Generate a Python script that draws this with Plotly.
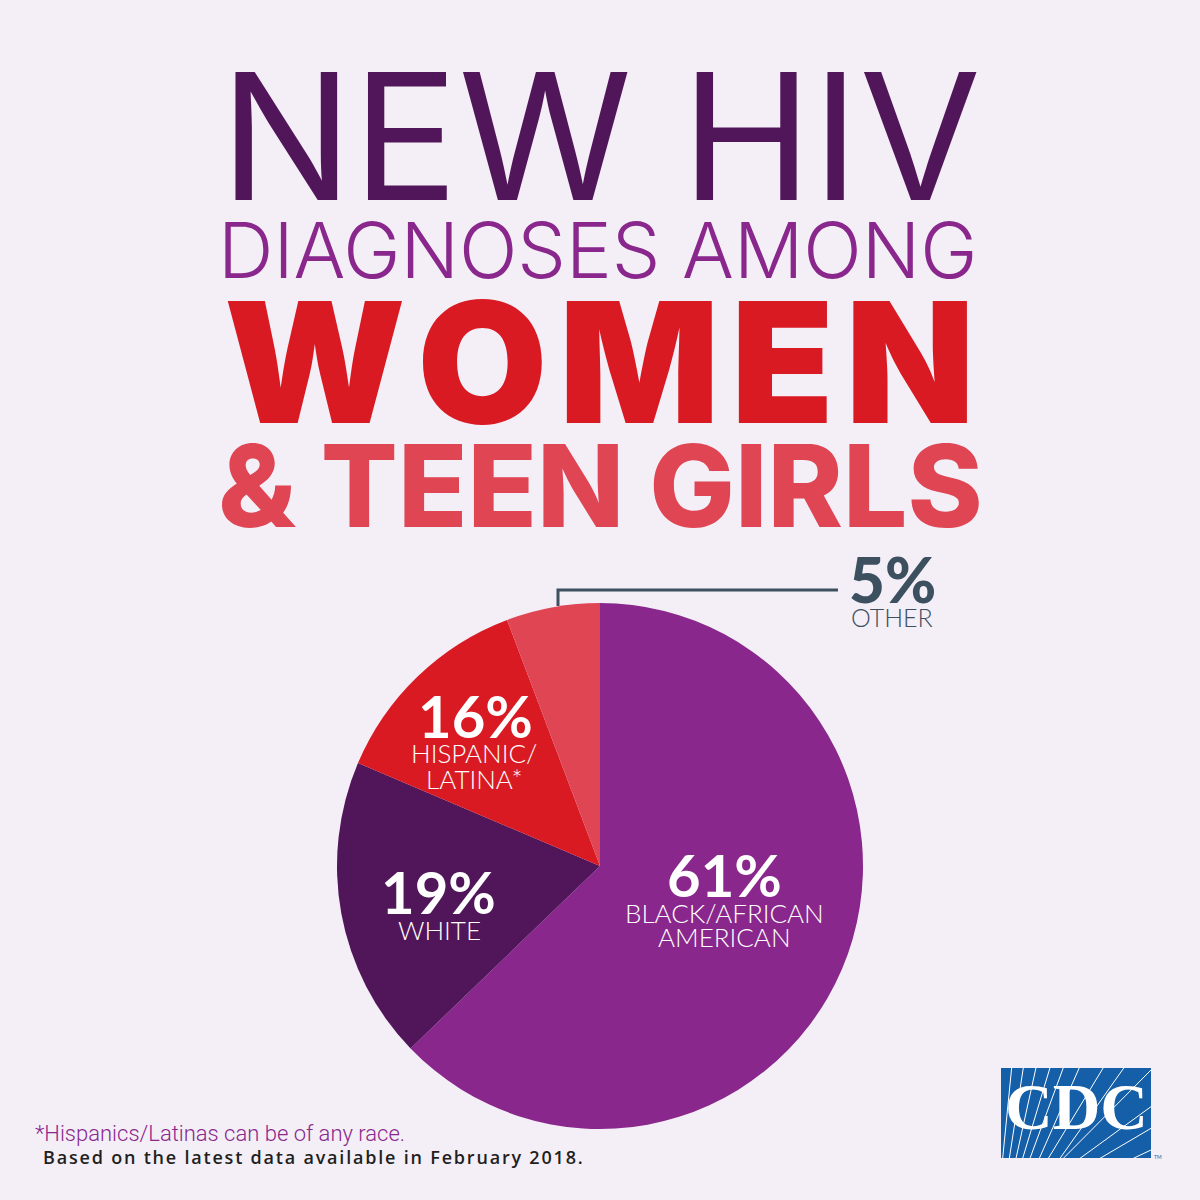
import plotly.graph_objects as go

W = H = 1200
BG = "#f4eef7"
slice_names = ["Black/African American", "White", "Hispanic/Latina", "Other"]
slice_shares = [62.8, 18.6, 12.85, 5.75]
slice_colors = ["#89278c", "#51155a", "#d91a23", "#df4553"]
HAIR = "\u200a"

def px(x): return x / W
def py(y): return 1 - y / H

fig = go.Figure(go.Pie(
    labels=slice_names, values=slice_shares, sort=False, direction="clockwise", rotation=0,
    marker=dict(colors=slice_colors, line=dict(width=0)), textinfo="none", showlegend=False,
    domain=dict(x=[px(337), px(863)], y=[py(1129), py(603)]),
))

# text, x, y (centre), size, colour, family, weight
texts = [
    ("NEW HIV", 600, 136, 176, "#51155a", "Inter", 400),
    ("DIAGNOSES AMONG", 597, 250, 77, "#89278c", "Inter", 300),
    ("W" + HAIR + "O" + HAIR + "M" + HAIR + "E" + HAIR + "N", 599, 362, 168, "#d91a23", "Inter", 900),
    ("&amp; TEEN GIRLS", 600, 485, 114, "#df4553", "Inter", 800),
    ("61%", 724, 874, 58, "white", "Lato", 700),
    ("BLACK/AFRICAN", 724, 913, 26, "white", "Lato", 300),
    ("AMERICAN", 724, 937, 26, "white", "Lato", 300),
    ("19%", 438, 891, 58, "white", "Lato", 700),
    ("WHITE", 439, 930, 26, "white", "Lato", 300),
    ("16%", 475, 715, 58, "white", "Lato", 700),
    ("HISPANIC/", 474, 753, 26, "white", "Lato", 300),
    ("LATINA*", 474, 779, 26, "white", "Lato", 300),
    ("5%", 892, 579, 62, "#3c5060", "Lato", 900),
    ("OTHER", 892, 617, 25, "#3c5060", "Lato", 300),
]
annotations = [dict(text=t, x=px(x), y=py(y), xref="paper", yref="paper", xanchor="center", yanchor="middle",
                    showarrow=False, font=dict(size=s, color=c, family=f, weight=w))
               for t, x, y, s, c, f, w in texts]
annotations += [
    dict(text="*Hispanics/Latinas can be of any race.", x=px(33), y=py(1133), xref="paper", yref="paper",
         xanchor="left", yanchor="middle", showarrow=False, font=dict(size=22, color="#89278c", family="Roboto", weight=300)),
    dict(text=HAIR.join("Based on the latest data available in February 2018."), x=px(41), y=py(1157), xref="paper", yref="paper",
         xanchor="left", yanchor="middle", showarrow=False, font=dict(size=18, color="#231f20", family="Open Sans", weight=600)),
    dict(text="CDC", x=px(1076), y=py(1106), xref="paper", yref="paper", xanchor="center", yanchor="middle",
         showarrow=False, font=dict(size=66, color="white", family="Liberation Serif", weight=700)),
    dict(text="TM", x=px(1158), y=py(1157), xref="paper", yref="paper", xanchor="center", yanchor="middle",
         showarrow=False, font=dict(size=5, color="#1a5ea8", family="Lato")),
]

shapes = [dict(type="path", xref="paper", yref="paper",
               path=f"M {px(558)} {py(606)} L {px(558)} {py(590)} L {px(838)} {py(590)}",
               line=dict(color="#3c5060", width=3)),
          dict(type="rect", xref="paper", yref="paper", x0=px(1001), x1=px(1151), y0=py(1158), y1=py(1068),
               fillcolor="#145fa8", line=dict(width=0), layer="below")]
# logo rays in reference-zoom pixels
logo_rays = [(68,325,95,53),(88,325,130,53),(108,325,168,53),(128,325,210,53),(150,325,250,53),(178,325,298,53),
             (205,325,370,53),(240,325,432,53),(250,325,513,60),(300,325,513,170),(360,325,513,235),(460,325,513,300)]
for a, b, c, d in logo_rays:
    shapes.append(dict(type="line", xref="paper", yref="paper", layer="below",
                       x0=px(980 + a / 3), y0=py(1050 + b / 3), x1=px(980 + c / 3), y1=py(1050 + d / 3),
                       line=dict(color="white", width=1)))

fig.update_layout(width=W, height=H, margin=dict(l=0, r=0, t=0, b=0), paper_bgcolor=BG, plot_bgcolor=BG,
                  annotations=annotations, shapes=shapes)
fig.write_html("out.html", config=dict(displayModeBar=False),
               post_script="document.body.style.margin='0';document.body.style.overflow='hidden';")
